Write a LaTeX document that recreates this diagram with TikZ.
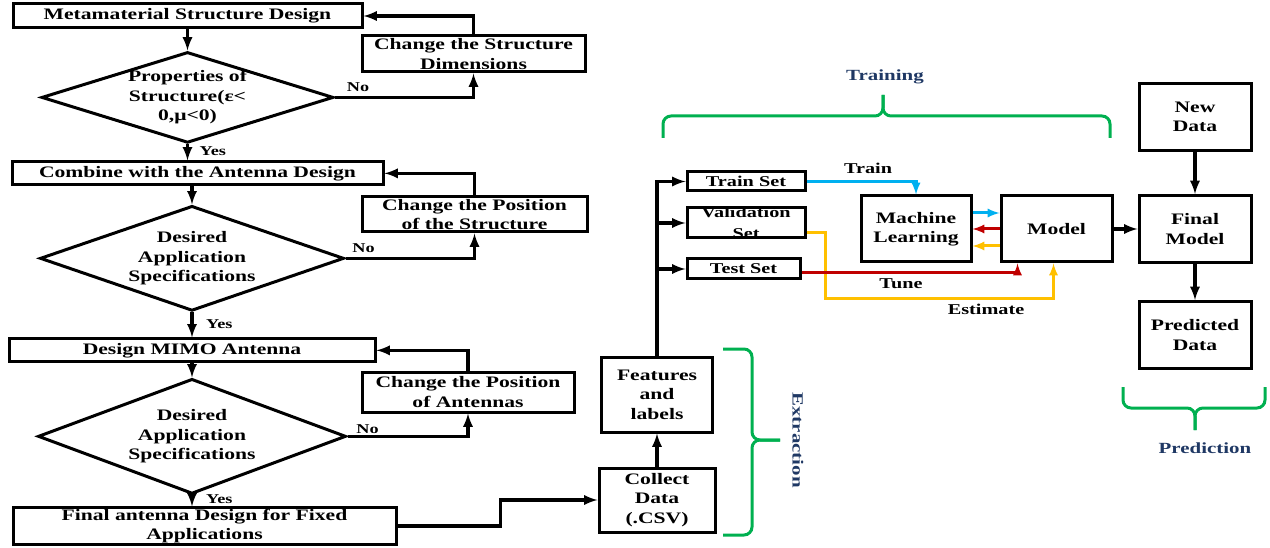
\documentclass[tikz,border=0pt]{standalone}
\usepackage{fontspec}
\setmainfont{Liberation Serif}[FakeStretch=1.35]
\usepackage{tikz}
\usetikzlibrary{shapes.geometric,positioning}

\definecolor{trainblue}{RGB}{0,176,240}
\definecolor{tunered}{RGB}{192,0,0}
\definecolor{estyellow}{RGB}{255,192,0}
\definecolor{bracegreen}{RGB}{0,176,80}
\definecolor{phasenavy}{RGB}{31,56,100}

\begin{document}
\begin{tikzpicture}[x=1pt,y=1pt]
		\tikzstyle{box}=[rectangle, draw=black, line width=3pt, align=center, inner sep=1pt, font=\fontsize{16}{19.5}\selectfont\bfseries]
		\tikzstyle{setbox}=[box, font=\fontsize{15}{21}\selectfont\bfseries]
		\tikzstyle{decision}=[diamond, draw=black, line width=3pt, align=center, inner sep=0pt, font=\fontsize{16}{19.5}\selectfont\bfseries]
		\tikzstyle{connect}=[-latex, line width=3.5pt]
		\tikzstyle{flowline}=[-latex, line width=3pt]
		\tikzstyle{lbl}=[inner sep=0pt, font=\fontsize{13.5}{16}\selectfont\bfseries]
		\tikzstyle{flowlbl}=[inner sep=0pt, font=\fontsize{15}{18}\selectfont\bfseries]
		\tikzstyle{phase}=[inner sep=0pt, text=phasenavy, font=\fontsize{15.5}{18}\selectfont\bfseries]
		\tikzstyle{phasebrace}=[draw=bracegreen, line width=3pt, rounded corners=8pt]
		\useasboundingbox (0,0) rectangle (1270,-548);
		
		\node[box, minimum width=349pt, minimum height=24pt] (meta) at (187.5,-16) {Metamaterial Structure Design};
		\node[decision, minimum width=292pt, minimum height=90pt, aspect=3.2] (prop) [below=21pt of meta] {Properties of\\Structure(ε<\\0,μ<0)};
		\node[box, minimum width=223pt, minimum height=36pt] (chgdim) at (473.5,-54) {Change the Structure\\Dimensions};
		
		\node[box, minimum width=371pt, minimum height=23pt] (comb) [below=16pt of prop, xshift=10pt] {Combine with the Antenna Design};
		\node[decision, minimum width=304pt, minimum height=105pt, aspect=2.9] (apps) [below=18pt of comb, xshift=-5.5pt] {Desired\\Application\\Specifications};
		\node[box, minimum width=225pt, minimum height=35pt] (chgstr) at (474.5,-214.5) {Change the Position\\of the Structure};
		
		\node[box, minimum width=366pt, minimum height=23pt] (mimo) [below=25pt of apps] {Design MIMO Antenna};
		\node[decision, minimum width=308pt, minimum height=115pt, aspect=2.7] (appsb) [below=14pt of mimo] {Desired\\Application\\Specifications};
		\node[box, minimum width=212pt, minimum height=40pt] (chgant) at (468,-392) {Change the Position\\of Antennas};
		
		\node[box, minimum width=383pt, minimum height=36pt] (final) [below=11pt of appsb, xshift=12.5pt] {Final antenna Design for Fixed\\Applications};
		
		\node[box, minimum width=116pt, minimum height=64pt] (collect) at (657,-500) {Collect\\Data\\(.CSV)};
		\node[box, minimum width=111pt, minimum height=75pt] (feat) [above=33pt of collect] {Features\\and\\labels};
		
		\node[setbox, minimum width=118pt, minimum height=19pt] (train) at (746,-181.5) {Train Set};
		\node[setbox, minimum width=118pt, minimum height=30pt, inner ysep=-1pt] (valid) [below=14pt of train] {Validation\\Set};
		\node[setbox, minimum width=113pt, minimum height=20pt] (test) [below=18pt of valid.south west, anchor=north west] {Test Set};
		
		\node[box, minimum width=110pt, minimum height=66pt] (ml) at (916,-229) {Machine\\Learning};
		\node[box, minimum width=111pt, minimum height=66pt] (model) [right=27pt of ml] {Model};
		\node[box, minimum width=112pt, minimum height=67pt] (finmodel) [right=24pt of model] {Final\\Model};
		\node[box, minimum width=112pt, minimum height=67pt] (newdata) [above=42pt of finmodel] {New\\Data};
		\node[box, minimum width=112pt, minimum height=67pt] (preddata) [below=36pt of finmodel] {Predicted\\Data};
		
		\path (meta) edge [connect] (prop);
		\draw[connect] (prop.south) -- (prop.south |- comb.north);
		\draw[connect] (comb.south -| apps.north) -- (apps.north);
		\draw[connect] (apps.south) -- (apps.south |- mimo.north);
		\draw[connect] (mimo.south -| appsb.north) -- (appsb.north);
		\draw[connect] (appsb.south) -- (appsb.south |- final.north);
		
		\draw[connect] (prop.east) -| (chgdim.south);
		\draw[connect] (chgdim.north) |- (meta.east);
		\draw[connect] (apps.east) -| (chgstr.south);
		\draw[connect] (chgstr.north) |- (comb.east);
		\draw[connect] (appsb.east) -| (chgant.south);
		\draw[connect] (chgant.north) |- (mimo.east);
		
		\node[lbl, anchor=west] (yes1) at ([xshift=12pt,yshift=-7pt]prop.south) {Yes};
		\node[lbl, anchor=west] (yes2) at ([xshift=14pt,yshift=-12pt]apps.south) {Yes};
		\node[lbl, anchor=west] (yes3) at ([xshift=14pt,yshift=-4pt]appsb.south) {Yes};
		\node[lbl] (no1) at ([xshift=23pt,yshift=10pt]prop.east) {No};
		\node[lbl] (no2) at ([xshift=18pt,yshift=10pt]apps.east) {No};
		\node[lbl] (no3) at ([xshift=20pt,yshift=7pt]appsb.east) {No};
		
		\draw[connect] (final.east) -- ++(103,0) |- (collect.west);
		\path (collect) edge [connect] (feat);
		\draw[connect] (feat.north) -- (feat.north |- train.west) -- (train.west);
		\draw[connect] (feat.north |- valid.west) -- (valid.west);
		\draw[connect] (feat.north |- test.west) -- (test.west);
		
		\coordinate (estbend) at (825,-299);
		\draw[flowline, estyellow] ([yshift=-10pt]valid.east) -| (estbend) -| ([xshift=-3pt]model.south);
		\draw[flowline, tunered] ([yshift=-4pt]test.east) -| ([xshift=-39pt]model.south);
		\draw[flowline, trainblue] (train.east) -| (ml.north);
		\draw[flowline, trainblue] ([yshift=16pt]ml.east) -- ([yshift=16pt]model.west);
		\draw[flowline, tunered] (model.west) -- (ml.east);
		\draw[flowline, estyellow] ([yshift=-17pt]model.west) -- ([yshift=-17pt]ml.east);
		\node[flowlbl] (trainlbl) at (868,-168) {Train};
		\node[flowlbl] (tunelbl) at (901,-284) {Tune};
		\node[flowlbl] (estlbl) at (986,-309) {Estimate};
		
		\path (model) edge [connect] (finmodel);
		\path (newdata) edge [connect] (finmodel);
		\path (finmodel) edge [connect] (preddata);
		
		\coordinate (trainL) at (663,-138);
		\coordinate (trainR) at (1110,-138);
		\coordinate (trainMid) at (883,-116);
		\coordinate (trainTip) at (883,-95);
		\draw[phasebrace] (trainL) |- (trainMid) -- (trainTip);
		\draw[phasebrace] (trainR) |- (trainMid) -- (trainTip);
		\node[phase] (training) at (885,-77) {Training};
		
		\coordinate (extrT) at (723,-349);
		\coordinate (extrB) at (723,-535);
		\coordinate (extrMid) at (752,-440);
		\coordinate (extrTip) at (780,-440);
		\draw[phasebrace] (extrT) -| (extrMid) -- (extrTip);
		\draw[phasebrace] (extrB) -| (extrMid) -- (extrTip);
		\node[phase, rotate=-90] (extraction) at (798,-440) {Extraction};
		
		\coordinate (predL) at (1123,-387);
		\coordinate (predR) at (1265,-387);
		\coordinate (predMid) at (1195,-408);
		\coordinate (predTip) at (1195,-430);
		\draw[phasebrace] (predL) |- (predMid) -- (predTip);
		\draw[phasebrace] (predR) |- (predMid) -- (predTip);
		\node[phase] (prediction) at (1205,-448) {Prediction};
	\end{tikzpicture}
\end{document}
